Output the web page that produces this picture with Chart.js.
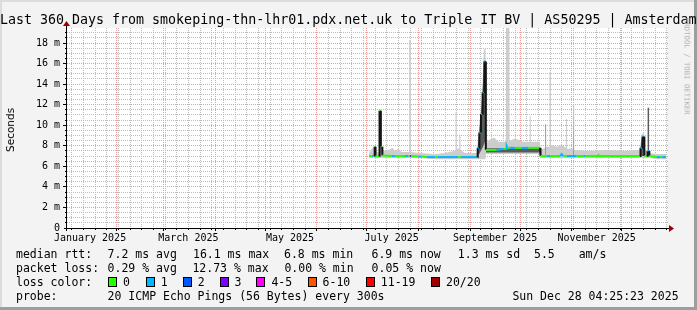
<!DOCTYPE html>
<html>
<head>
<meta charset="utf-8">
<script src="https://cdn.jsdelivr.net/npm/chart.js@4"></script>
<style>
  body { margin: 0; background: #f3f3f3; }
  #wrap { position: relative; width: 697px; height: 310px; overflow: hidden; }
  #chart { position: absolute; left: 0; top: 0; }
  .t { position: absolute; font-family: "DejaVu Sans Mono", monospace; white-space: pre; color: #000; }
  .title { left: 0; top: 12px; font-size: 13.3px; line-height: 16px; }
  .leg { font-size: 11.5px; line-height: 14px; }
  .yl { position: absolute; left: 10px; top: 130px; font-family: "DejaVu Sans", sans-serif; font-size: 10.5px;
        transform: translate(-50%, -50%) rotate(-90deg); white-space: nowrap; }
  .wm { position: absolute; left: 687px; top: 18px; font-family: "DejaVu Sans Mono", monospace; font-size: 7.3px;
        color: #b0b0b0; transform-origin: 0 0; transform: rotate(90deg) translate(0, -50%); white-space: nowrap; }
  .sw { position: absolute; width: 7px; height: 8px; border: 1px solid #000; }
</style>
</head>
<body>
<div id="wrap">
  <canvas id="chart" width="697" height="310"></canvas>
  <div class="t title">Last 360 Days from smokeping-thn-lhr01.pdx.net.uk to Triple IT BV | AS50295 | Amsterdam</div>
  <div class="yl">Seconds</div>
  <div class="wm">RRDTOOL / TOBI OETIKER</div>

  <div class="t leg" style="left:16px;top:247px">median rtt:</div>
  <div class="t leg" style="left:107.6px;top:247px">7.2 ms avg</div>
  <div class="t leg" style="left:193px;top:247px">16.1 ms max</div>
  <div class="t leg" style="left:284px;top:247px">6.8 ms min</div>
  <div class="t leg" style="left:371.5px;top:247px">6.9 ms now</div>
  <div class="t leg" style="left:457.8px;top:247px">1.3 ms sd</div>
  <div class="t leg" style="left:534px;top:247px">5.5</div>
  <div class="t leg" style="left:578.7px;top:247px">am/s</div>

  <div class="t leg" style="left:16px;top:261px">packet loss:</div>
  <div class="t leg" style="left:107.6px;top:261px">0.29 % avg</div>
  <div class="t leg" style="left:192.4px;top:261px">12.73 % max</div>
  <div class="t leg" style="left:284.4px;top:261px">0.00 % min</div>
  <div class="t leg" style="left:371.6px;top:261px">0.05 % now</div>

  <div class="t leg" style="left:16px;top:275px">loss color:</div>
  <div id="swatches"></div>

  <div class="t leg" style="left:16px;top:289px">probe:</div>
  <div class="t leg" style="left:107.6px;top:289px">20 ICMP Echo Pings (56 Bytes) every 300s</div>
  <div class="t leg" style="left:512.4px;top:289px">Sun Dec 28 04:25:23 2025</div>
</div>
<script>
// time axis is in days since 2025-01-01 00:00, graph covers the last 360 days
const startDay = 1.184;
const endDay = 361.184;
const monthStarts = [31, 59, 90, 120, 151, 181, 212, 243, 273, 304, 334];
const labelDays = [15, 74, 135, 196, 258, 319];
const labelNames = ['January 2025', 'March 2025', 'May 2025', 'July 2025', 'September 2025', 'November 2025'];
const yTicks = [0, 2, 4, 6, 8, 10, 12, 14, 16, 18];
const yTickLabels = ['0', '2 m', '4 m', '6 m', '8 m', '10 m', '12 m', '14 m', '16 m', '18 m'];
const yMax = 19.46;

// loss colour legend
const lossNames = ['0', '1', '2', '3', '4-5', '6-10', '11-19', '20/20'];
const lossColors = ['#26ff00', '#00b8ff', '#0059ff', '#7e00ff', '#ff00ff', '#ff5500', '#ff0000', '#a10000'];
const swatchX = [108, 145.8, 182.7, 219.6, 256.4, 307.6, 365.8, 431];

// median rtt (ms) and loss bucket
const medianDays = [182.4, 184.0, 185.0, 185.7, 185.8, 186.2, 186.3, 188.6, 188.7, 189.4, 189.5, 190.3, 190.4,
  196.0, 198.0, 204.0, 206.0, 207.0, 207.6, 212.0, 214.0, 217.0, 222.0, 223.5, 236.0, 237.5,
  247.5, 247.6, 248.5, 248.6, 249.5, 249.6, 250.5, 250.6, 251.5, 251.6, 252.3, 252.5,
  259.0, 263.0, 264.6, 265.0, 265.5, 267.0, 270.0, 274.0, 278.0, 285.0, 285.3,
  289.0, 291.0, 297.0, 298.0, 299.0, 301.0, 307.0, 311.0, 312.0, 319.5, 320.0, 320.5,
  344.8, 345.0, 345.3, 346.3, 346.5, 347.4, 347.6, 349.3, 349.5, 350.4, 350.6, 355.0, 357.0, 358.0, 360.6];
const medianMs = [7.0, 7.0, 7.0, 7.0, 7.9, 7.9, 7.0, 7.0, 11.4, 11.4, 7.9, 7.9, 7.05,
  7.0, 7.0, 7.0, 7.0, 7.0, 7.0, 6.95, 6.95, 6.9, 6.9, 6.9, 6.9, 6.9,
  6.9, 7.8, 7.8, 9.3, 9.3, 11.1, 11.1, 13.2, 13.2, 16.2, 16.2, 7.6,
  7.6, 7.7, 7.7, 8.0, 7.8, 7.8, 7.8, 7.8, 7.8, 7.8, 7.0,
  7.0, 7.0, 7.0, 7.2, 7.0, 7.0, 7.0, 7.0, 7.0, 7.0, 7.1, 7.0,
  7.0, 7.0, 7.8, 7.8, 8.9, 8.9, 7.0, 7.0, 7.5, 7.5, 7.0, 6.9, 6.9, 6.9, 6.9];
const medianLoss = [0, 1, 0, 0, 0, 0, 0, 1, 0, 0, 0, 0, 0,
  1, 0, 1, 0, 3, 0, 1, 0, 1, 0, 1, 0, 1,
  1, 1, 1, 1, 1, 1, 1, 1, 1, 1, 1, 0,
  1, 0, 1, 1, 0, 1, 0, 1, 0, 0, 0,
  1, 0, 1, 1, 0, 1, 0, 1, 0, 0, 0, 0,
  0, 1, 1, 1, 1, 1, 0, 0, 1, 1, 0, 1, 0, 1, 1];

// smoke: spread of all pings (light) and the dense core (dark)
const lightDays = [182.4, 183.5, 185.0, 186.5, 187.0, 188.5, 188.6, 189.5, 189.6, 190.4, 190.5, 194.0, 196.5, 198.0,
  200.0, 202.0, 206.4, 206.5, 207.4, 207.5, 212.0, 222.0, 228.0, 233.5, 234.2, 234.3, 234.9, 235.0, 236.4, 236.5,
  237.2, 237.3, 240.0, 247.0, 247.5, 248.5, 249.5, 250.5, 251.3, 252.3, 252.5, 255.0, 257.5, 260.0, 264.5, 264.6,
  266.6, 266.7, 270.0, 275.0, 278.7, 278.8, 279.4, 279.5, 285.0, 285.3, 288.0, 288.1, 288.7, 288.8, 290.6, 290.7,
  291.5, 291.6, 295.0, 298.0, 300.5, 300.6, 301.2, 301.3, 304.7, 304.8, 305.5, 305.6, 315.0, 325.0, 335.0, 344.8,
  345.2, 346.3, 347.5, 347.7, 349.3, 349.4, 350.5, 350.6, 355.0, 360.6];
const lightLo = [6.8, 6.8, 6.8, 6.8, 6.8, 6.8, 6.8, 6.8, 6.8, 6.8, 6.8, 6.8, 6.8, 6.8,
  6.8, 6.8, 6.8, 6.8, 6.8, 6.8, 6.8, 6.7, 6.7, 6.7, 6.7, 6.7, 6.7, 6.7, 6.7, 6.7,
  6.7, 6.7, 6.7, 6.7, 6.7, 6.7, 6.7, 6.7, 6.7, 6.7, 7.2, 7.2, 7.2, 7.2, 7.2, 7.2,
  7.2, 7.2, 7.2, 7.2, 7.2, 7.2, 7.2, 7.2, 7.2, 6.8, 6.8, 6.8, 6.8, 6.8, 6.8, 6.8,
  6.8, 6.8, 6.8, 6.8, 6.8, 6.8, 6.8, 6.8, 6.8, 6.8, 6.8, 6.8, 6.8, 6.8, 6.8, 6.8,
  6.8, 6.8, 6.8, 6.8, 6.8, 6.8, 6.8, 6.8, 6.7, 6.7];
const lightHi = [7.3, 7.6, 7.9, 7.9, 7.4, 7.4, 11.4, 11.4, 8.0, 8.0, 7.5, 7.6, 7.8, 7.5,
  7.7, 7.4, 7.4, 18.3, 18.3, 7.4, 7.3, 7.2, 7.3, 7.5, 7.6, 11.3, 11.3, 7.7, 7.7, 9.1,
  9.1, 7.6, 7.3, 7.3, 8.2, 9.7, 11.6, 14.2, 17.4, 17.4, 8.3, 8.6, 8.8, 8.4, 8.4, 19.46,
  19.46, 8.5, 8.7, 8.4, 8.4, 10.9, 10.9, 8.4, 8.4, 7.6, 7.8, 10.1, 10.1, 7.9, 7.9, 15.2,
  15.2, 8.1, 7.9, 8.1, 7.8, 10.6, 10.6, 7.7, 7.7, 12.0, 12.0, 7.6, 7.5, 7.6, 7.5, 7.6,
  8.1, 9.2, 9.2, 7.6, 7.6, 11.7, 11.7, 7.3, 7.2, 7.2];

const darkDays = [188.6, 189.4, 189.5, 247.6, 248.5, 249.5, 250.5, 251.5, 252.3, 252.4,
  252.5, 264.6, 285.0, 285.1, 288.2, 288.6, 288.7, 304.9, 305.3, 305.4, 345.3, 346.3, 347.4, 347.5, 349.5, 350.4];
const darkLo = [7.0, 7.0, null, 7.0, 7.2, 7.5, 7.8, 8.2, 8.6, null,
  7.35, 7.35, 7.35, null, 7.0, 7.0, null, 7.0, 7.0, null, 7.0, 7.0, 7.0, null, 7.0, 7.0];
const darkHi = [11.4, 11.4, null, 7.8, 9.3, 11.1, 13.2, 16.2, 16.4, null,
  7.75, 7.75, 7.75, null, 10.1, 10.1, null, 12.0, 12.0, null, 7.8, 8.9, 8.9, null, 11.7, 11.7];

const pts = (xs, ys) => xs.map((d, i) => ({ x: d, y: ys[i] }));

// swatches for the loss colour row
const swWrap = document.getElementById('swatches');
lossNames.forEach((name, i) => {
  const s = document.createElement('div');
  s.className = 'sw';
  s.style.left = swatchX[i] + 'px';
  s.style.top = '277px';
  s.style.background = lossColors[i];
  swWrap.appendChild(s);
  const l = document.createElement('div');
  l.className = 't leg';
  l.style.left = (swatchX[i] + 15) + 'px';
  l.style.top = '275px';
  l.textContent = name;
  swWrap.appendChild(l);
});

const px = v => Math.floor(v) + 0.5;

// rrdtool look: canvas, dotted grid, axes with arrows
const rrdFrame = {
  id: 'rrdFrame',
  beforeDraw(chart) {
    const { ctx, chartArea: a, scales: { x, y } } = chart;
    ctx.save();
    ctx.fillStyle = '#f3f3f3';
    ctx.fillRect(0, 0, chart.width, chart.height);
    ctx.fillStyle = '#dcdcdc';
    ctx.fillRect(0, 0, chart.width, 2);
    ctx.fillRect(0, 0, 2, chart.height);
    ctx.fillStyle = '#9e9e9e';
    ctx.fillRect(chart.width - 3, 0, 3, chart.height);
    ctx.fillRect(0, chart.height - 3, chart.width, 3);
    ctx.fillStyle = '#ffffff';
    ctx.fillRect(a.left, a.top, a.right - a.left, a.bottom - a.top);

    ctx.lineWidth = 1;
    ctx.setLineDash([1, 1]);
    // minor: every 0.5 ms, weekly (sundays)
    ctx.strokeStyle = '#bcbcbc';
    ctx.beginPath();
    for (let v = 0.5; v < yMax; v += 0.5) {
      if (v % 2 === 0) continue;
      const py = px(y.getPixelForValue(v));
      ctx.moveTo(a.left, py); ctx.lineTo(a.right + 1, py);
    }
    for (let d = 4; d < endDay; d += 7) {
      if (d < startDay) continue;
      const xx = px(x.getPixelForValue(d));
      ctx.moveTo(xx, a.top); ctx.lineTo(xx, a.bottom);
    }
    ctx.stroke();
    // major: every 2 ms, month starts
    ctx.strokeStyle = '#f09a9a';
    ctx.beginPath();
    yTicks.slice(1).forEach(v => {
      const py = px(y.getPixelForValue(v));
      ctx.moveTo(a.left, py); ctx.lineTo(a.right + 1, py);
    });
    monthStarts.forEach(d => {
      const xx = px(x.getPixelForValue(d));
      ctx.moveTo(xx, a.top); ctx.lineTo(xx, a.bottom);
    });
    ctx.stroke();
    ctx.restore();
  },
  afterDatasetsDraw(chart) {
    const { ctx, chartArea: a, scales: { x, y } } = chart;
    ctx.save();
    ctx.lineWidth = 1;
    ctx.strokeStyle = '#000';
    ctx.beginPath();
    // tick marks
    for (let v = 0.5; v < yMax; v += 0.5) {
      const py = px(y.getPixelForValue(v));
      ctx.moveTo(a.left - (v % 2 === 0 ? 4 : 2), py); ctx.lineTo(a.left, py);
    }
    for (let d = 4; d < endDay; d += 7) {
      const xx = px(x.getPixelForValue(d));
      ctx.moveTo(xx, a.bottom); ctx.lineTo(xx, a.bottom + 2);
    }
    monthStarts.forEach(d => {
      const xx = px(x.getPixelForValue(d));
      ctx.moveTo(xx, a.bottom); ctx.lineTo(xx, a.bottom + 3);
    });
    // axes
    const ax = px(a.left - 1), ay = px(a.bottom);
    ctx.moveTo(a.left - 3, ay); ctx.lineTo(a.right + 3, ay);
    ctx.moveTo(ax, a.bottom + 3); ctx.lineTo(ax, a.top - 4);
    ctx.stroke();
    ctx.fillStyle = '#9a0000';
    ctx.beginPath();
    ctx.moveTo(a.right + 2, ay - 3.5); ctx.lineTo(a.right + 7, ay); ctx.lineTo(a.right + 2, ay + 3.5);
    ctx.closePath(); ctx.fill();
    ctx.beginPath();
    ctx.moveTo(ax - 3.5, a.top - 2); ctx.lineTo(ax, a.top - 7); ctx.lineTo(ax + 3.5, a.top - 2);
    ctx.closePath(); ctx.fill();
    ctx.restore();
  }
};

const tickFont = { family: 'DejaVu Sans Mono', size: 10 };

new Chart(document.getElementById('chart'), {
  type: 'line',
  data: {
    datasets: [
      { label: 'lightLo', data: pts(lightDays, lightLo), borderWidth: 0, fill: false, order: 3 },
      { label: 'lightHi', data: pts(lightDays, lightHi), borderWidth: 0, fill: '-1', backgroundColor: '#cdcdcd', order: 3 },
      { label: 'darkLo', data: pts(darkDays, darkLo), borderWidth: 0, fill: false, order: 2 },
      { label: 'darkHi', data: pts(darkDays, darkHi), borderWidth: 0, fill: '-1', backgroundColor: '#5a5a5a', order: 2 },
      {
        label: 'median rtt', data: pts(medianDays, medianMs), borderWidth: 2, fill: false, order: 1,
        borderColor: '#26ff00',
        segment: {
          borderColor: c => Math.abs(c.p1.parsed.y - c.p0.parsed.y) > 0.3 ? '#151515' : lossColors[medianLoss[c.p0DataIndex]]
        }
      }
    ]
  },
  options: {
    responsive: false,
    animation: false,
    devicePixelRatio: 1,
    layout: { padding: { top: 28, right: 30, left: 0, bottom: 0 } },
    plugins: { legend: { display: false }, tooltip: { enabled: false } },
    elements: { point: { radius: 0 }, line: { tension: 0, borderJoinStyle: 'miter' } },
    scales: {
      x: {
        type: 'linear', min: startDay, max: endDay,
        grid: { display: false, drawTicks: false }, border: { display: false },
        afterBuildTicks: s => { s.ticks = labelDays.map(v => ({ value: v })); },
        afterFit: s => { s.height = 82; },
        ticks: { autoSkip: false, maxRotation: 0, padding: 4, font: tickFont, color: '#000',
          callback: (v, i) => labelNames[i] }
      },
      y: {
        min: 0, max: yMax,
        grid: { display: false, drawTicks: false }, border: { display: false },
        afterBuildTicks: s => { s.ticks = yTicks.map(v => ({ value: v })); },
        afterFit: s => { s.width = 67; },
        ticks: { autoSkip: false, padding: 7, font: tickFont, color: '#000',
          callback: (v, i) => yTickLabels[i] }
      }
    }
  },
  plugins: [rrdFrame]
});
</script>
</body>
</html>
